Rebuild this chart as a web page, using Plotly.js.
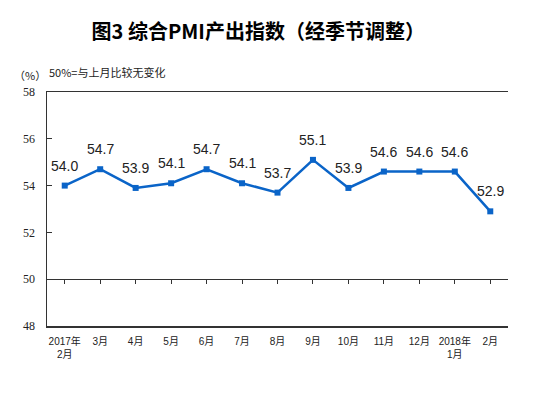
<!DOCTYPE html>
<html><head><meta charset="utf-8">
<script src="https://cdn.plot.ly/plotly-3.0.1.min.js"></script>
<style>body{margin:0;background:#fff}#c{width:553px;height:396px}</style>
</head><body><div id="c"></div>
<script>
const categories = ["2017年<br>2月","3月","4月","5月","6月","7月","8月","9月","10月","11月","12月","2018年<br>1月","2月"];
const values = [54.0,54.7,53.9,54.1,54.7,54.1,53.7,55.1,53.9,54.6,54.6,54.6,52.9];
const yTicks = [48,50,52,54,56,58];
const labels = values.map(v => v.toFixed(1));

const idx = categories.map((c,i)=>i);
const trace = {
  x: idx, y: values, type: 'scatter', mode: 'lines+markers',
  line: {color: '#0a64c8', width: 2.5},
  marker: {symbol: 'square', size: 6, color: '#0a64c8'},
  cliponaxis: false, hoverinfo: 'none', showlegend: false
};
const dummy = {x: idx, y: values, xaxis: 'x2', yaxis: 'y', mode: 'none', type: 'scatter', showlegend: false, hoverinfo: 'none'};

const valueAnns = idx.map(i => ({
  x: i, y: values[i], xref: 'x', yref: 'y', text: labels[i], showarrow: false,
  yshift: 20, xanchor: 'center', yanchor: 'middle',
  font: {family: 'Liberation Sans, Arial', size: 14, color: '#222'}
}));

const layout = {
  width: 553, height: 396,
  margin: {l: 47, r: 45, t: 92, b: 70},
  paper_bgcolor: '#fff', plot_bgcolor: '#fff',
  title: {text: '<b>图3 综合PMI产出指数（经季节调整）</b>', x: 0.467, xanchor: 'center', y: 0.918, yanchor: 'middle',
    font: {family: 'Noto Sans CJK SC', size: 20, color: '#000'}},
  xaxis: {range: [-0.5, 12.5], tickvals: idx, ticktext: categories, showgrid: false, zeroline: false,
    showline: true, linecolor: '#333', linewidth: 1.5, mirror: true, ticks: '',
    tickfont: {family: 'Liberation Sans, Noto Sans CJK SC', size: 10, color: '#222'}, ticklabelstandoff: 5},
  xaxis2: {range: [-0.5, 12.5], overlaying: 'x', anchor: 'free', position: 0.2, showline: true, linecolor: '#333', linewidth: 1.2,
    tickvals: idx, ticks: 'outside', tickson: 'boundaries', ticklen: 4, tickcolor: '#333', showticklabels: false, showgrid: false, zeroline: false},
  yaxis: {range: [48, 58], tickvals: yTicks, showgrid: false, zeroline: false, showline: true, linecolor: '#333', linewidth: 1.5,
    ticks: 'inside', ticklen: 5, tickcolor: '#333', tickfont: {family: 'Liberation Serif', size: 12, color: '#222'}, ticklabelstandoff: 8},
  annotations: valueAnns.concat([
    {text: '（%）', xref: 'paper', yref: 'paper', x: -0.075, y: 1.073, xanchor: 'left', yanchor: 'middle', showarrow: false,
      font: {family: 'Noto Sans CJK SC', size: 11, color: '#222'}},
    {text: '50%=与上月比较无变化', xref: 'paper', yref: 'paper', x: 0.0, y: 1.087, xanchor: 'left', yanchor: 'middle', showarrow: false,
      font: {family: 'Noto Sans CJK SC', size: 11, color: '#222'}}
  ])
};
Plotly.newPlot('c', [dummy, trace], layout, {staticPlot: true});
</script></body></html>
